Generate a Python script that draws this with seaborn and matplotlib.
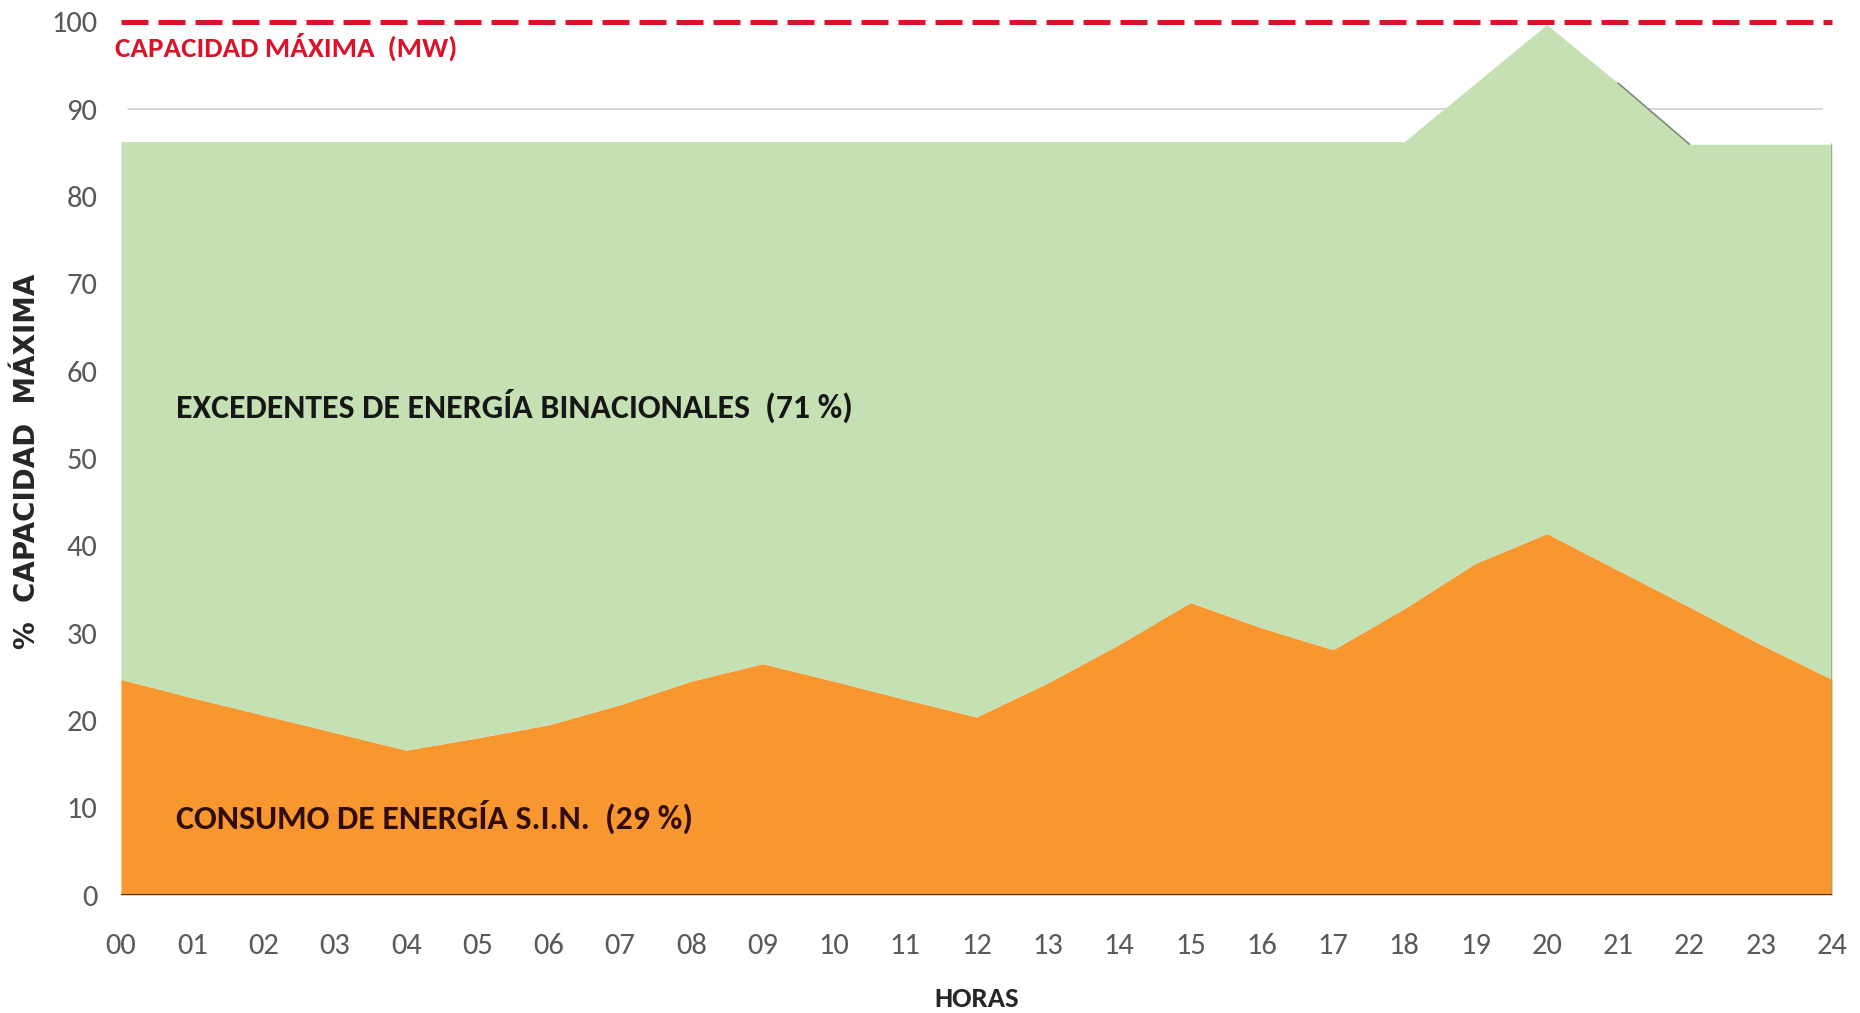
import matplotlib
matplotlib.use("Agg")
import matplotlib.pyplot as plt
from matplotlib import font_manager
import seaborn as sns
import pandas as pd

# Hourly profile, % of maximum capacity
horas = list(range(25))
etiquetas_horas = [f"{h:02d}" for h in horas]
consumo_sin = [24.7, 22.6, 20.6, 18.6, 16.6, 18.0, 19.5, 21.8, 24.5, 26.5,
               24.5, 22.4, 20.4, 24.3, 28.7, 33.5, 30.6, 28.1, 32.8, 38.0,
               41.4, 37.2, 33.0, 28.7, 24.7]
disponible_total = [86.3, 86.3, 86.3, 86.3, 86.3, 86.3, 86.3, 86.3, 86.3, 86.3,
                    86.3, 86.3, 86.3, 86.3, 86.3, 86.3, 86.3, 86.3, 86.3, 93.0,
                    99.7, 93.0, 86.0, 86.0, 86.0]
capacidad_maxima = [100] * 25
y_ticks = [0, 10, 20, 30, 40, 50, 60, 70, 80, 90, 100]

df = pd.DataFrame({"hora": horas, "consumo": consumo_sin,
                   "total": disponible_total, "capacidad": capacidad_maxima})


def first_installed(candidates, default="DejaVu Sans"):
    avail = {f.name for f in font_manager.fontManager.ttflist}
    for name in candidates:
        if name in avail:
            return name
    return default


COND = first_installed(["Carlito", "Fira Sans Condensed", "Archivo Narrow",
                        "IBM Plex Sans Condensed", "Liberation Sans"])
WIDE = first_installed(["DejaVu Sans"])

sns.set_theme(style="white")
plt.rcParams["font.family"] = [COND, "DejaVu Sans"]

W, H = 1860, 1013
fig = plt.figure(figsize=(W / 100, H / 100), dpi=100)
left, right, bottom, top = 121 / W, 1832 / W, 1 - 895 / H, 1 - 22 / H
ax = fig.add_axes([left, bottom, right - left, top - bottom])

GREEN = "#C5E0B3"
ORANGE = "#F8962F"
RED = "#DA132B"

# light gridline at 90 (the lower ones sit under the areas)
ax.axhline(90, xmin=0.004, xmax=0.994, color="#d4d4d4", lw=1.3, zorder=0)

# stacked areas: national consumption and binational surplus
ax.fill_between(df["hora"], 0, df["consumo"], color=ORANGE, lw=0, zorder=2)
ax.fill_between(df["hora"], df["consumo"], df["total"], color=GREEN, lw=0, zorder=2)
ax.plot([24, 24], [0, df["total"].iloc[-1]], color="#9aa392", lw=1.2, zorder=3)
ax.plot(df["hora"].iloc[21:23], df["total"].iloc[21:23], color="#7d8a78", lw=1.2, zorder=3)
ax.axhline(0, color="#4a3520", lw=2.2, zorder=4)

# maximum capacity line
sns.lineplot(data=df, x="hora", y="capacidad", ax=ax, color=RED, lw=3.6,
             zorder=5, clip_on=False)
ax.lines[-1].set_dashes([5.4, 2.0])

ax.set_xlim(0, 24)
ax.set_ylim(0, 100)
ax.set_xticks(horas)
ax.set_xticklabels(etiquetas_horas)
ax.set_yticks(y_ticks)
ax.tick_params(axis="x", length=0, pad=27, labelsize=22, labelcolor="#595959")
ax.tick_params(axis="y", length=0, pad=17, labelsize=22, labelcolor="#595959")
for s in ax.spines.values():
    s.set_visible(False)

ax.set_xlabel("HORAS", fontsize=20, fontweight="bold", color="#262626")
ax.xaxis.label.set_va("center")
ax.xaxis.set_label_coords(0.5, -0.119)
ax.set_ylabel("%  CAPACIDAD  MÁXIMA", fontsize=20, fontweight="bold",
              color="#262626", family=[WIDE])
ax.yaxis.label.set_va("center")
ax.yaxis.set_label_coords(-0.055, 0.497)

t_cap = ax.text(-0.08, 97.1, "CAPACIDAD MÁXIMA  (MW)", color=RED, fontsize=21,
                fontweight="bold", va="center", ha="left", zorder=6)
t_exc = ax.text(0.77, 56.0, "EXCEDENTES DE ENERGÍA BINACIONALES  (71 %)",
                color="#161616", fontsize=26, fontweight="bold", va="center",
                ha="left", zorder=6)
t_con = ax.text(0.77, 9.0, "CONSUMO DE ENERGÍA S.I.N.  (29 %)", color="#300c0a",
                fontsize=26, fontweight="bold", va="center", ha="left", zorder=6)


def fit_width(txt, width_px):
    """Scale a text's font size so that it spans width_px pixels."""
    fig.canvas.draw()
    r = fig.canvas.get_renderer()
    w = txt.get_window_extent(r).width
    txt.set_fontsize(txt.get_fontsize() * width_px / w)


fit_width(t_cap, 342)
fit_width(t_exc, 678)
fit_width(t_con, 518)
fit_width(ax.xaxis.label, 85)

fig.savefig("out.png", dpi=100)
